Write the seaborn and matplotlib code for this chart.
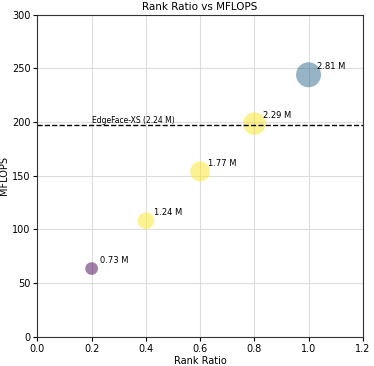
import matplotlib
matplotlib.use("Agg")
import matplotlib.pyplot as plt
import seaborn as sns
import pandas as pd

# data
rank_ratio = [0.2, 0.4, 0.6, 0.8, 1.0]
mflops = [63.5, 108, 154, 198.5, 244]
params_m = [0.73, 1.24, 1.77, 2.29, 2.81]
point_colors = ["#440154", "#fde725", "#fde725", "#fde725", "#31688e"]
baseline_mflops = 197
baseline_label = "EdgeFace-XS (2.24 M)"

df = pd.DataFrame({
    "Rank Ratio": rank_ratio,
    "MFLOPS": mflops,
    "params": params_m,
    "label": [f"{p:.2f} M" for p in params_m],
})

fig, ax = plt.subplots(figsize=(3.74, 3.66), dpi=100)

sns.scatterplot(data=df, x="Rank Ratio", y="MFLOPS", hue="label",
                palette=dict(zip(df["label"], point_colors)),
                size="params", sizes=(84, 324), size_norm=(0.73, 2.81),
                alpha=0.5, edgecolor="none", legend=False, ax=ax)

# annotate each point with its parameter count
for x, y, lab in zip(df["Rank Ratio"], df["MFLOPS"], df["label"]):
    ax.annotate(lab, (x, y), xytext=(6, 4), textcoords="offset points", fontsize=6)

# baseline line
ax.axhline(baseline_mflops, color="black", linestyle="--", linewidth=1)
ax.text(0.2, baseline_mflops + 0.5, baseline_label, fontsize=5.5, va="bottom")

ax.set_xlim(0, 1.2)
ax.set_ylim(0, 300)
ax.grid(True, color="#dddddd", linewidth=0.8)
ax.set_axisbelow(True)
for sp in ax.spines.values():
    sp.set_color("#333333")
ax.set_title("Rank Ratio vs MFLOPS", fontsize=7.5, pad=3)
ax.set_xlabel("Rank Ratio", fontsize=7, labelpad=2)
ax.set_ylabel("MFLOPS", fontsize=7, labelpad=2)
ax.tick_params(labelsize=7, length=3, pad=2)

fig.subplots_adjust(left=0.1, right=0.97, top=0.96, bottom=0.08)
plt.savefig("out.png", dpi=100)
plt.close()
